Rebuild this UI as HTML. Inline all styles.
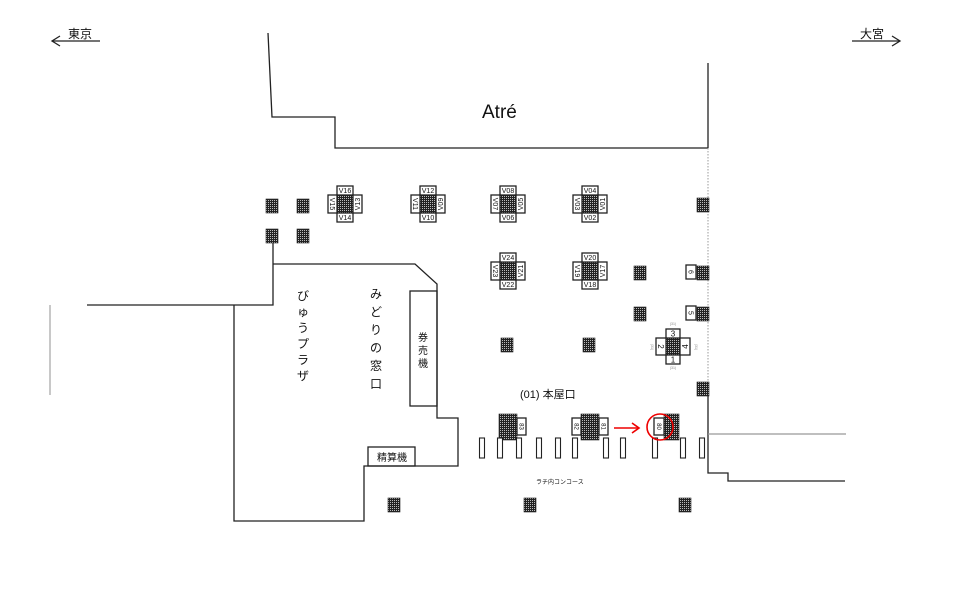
<!DOCTYPE html>
<html><head><meta charset="utf-8"><style>
html,body{margin:0;padding:0;background:#fff;}
svg{display:block;font-family:"Liberation Sans","Noto Sans CJK JP",sans-serif;}
</style></head><body>
<svg id="s" width="960" height="605" viewBox="0 0 960 605" xmlns="http://www.w3.org/2000/svg">
<defs>
<pattern id="h" width="2" height="2" patternUnits="userSpaceOnUse">
<rect width="2" height="2" fill="#222"/><rect width="1" height="1" fill="#bbb"/>
</pattern>
</defs>
<g fill="none" stroke="#222" stroke-width="1.3">
<line x1="52" y1="41" x2="100" y2="41"/><polyline points="60,36 52,41 60,46"/>
<line x1="852" y1="41" x2="900" y2="41"/><polyline points="892,36 900,41 892,46"/>
<polyline points="268,33 272,117 335,117 335,148 708,148"/>
<line x1="708" y1="63" x2="708" y2="148"/>
<line x1="708" y1="148" x2="708" y2="385" stroke="#999" stroke-dasharray="1.5,1.5" stroke-width="1"/>
<polyline points="708,385 708,473 728,473 728,481 845,481"/>
<line x1="708" y1="434" x2="846" y2="434" stroke="#999"/>
<polyline points="87,305 273,305 273,240"/>
<polyline points="234,305 234,521 364,521 364,466 458,466 458,418 437,418 437,284 415,264 273,264"/>
<rect x="410" y="291" width="27" height="115"/>
<rect x="368" y="447" width="47" height="19"/>
<line x1="50" y1="305" x2="50" y2="395" stroke="#aaa"/>
</g>
<g font-size="12" fill="#111">
<text x="68" y="38">東京</text>
<text x="860" y="38">大宮</text>
<text x="482" y="118" font-size="19">Atré</text>
<text x="377" y="461" font-size="10">精算機</text>
<text x="520" y="398" font-size="11">(01) 本屋口</text>
<text x="536" y="484" font-size="6">ラチ内コンコース</text>
</g>
<g font-size="12" fill="#111" text-anchor="middle">
<text x="303" y="300">び</text><text x="303" y="316">ゅ</text><text x="303" y="332">う</text><text x="303" y="348">プ</text><text x="303" y="364">ラ</text><text x="303" y="380">ザ</text>
</g>
<g font-size="12" fill="#111" text-anchor="middle">
<text x="376" y="298">み</text><text x="376" y="316">ど</text><text x="376" y="334">り</text><text x="376" y="352">の</text><text x="376" y="370">窓</text><text x="376" y="388">口</text>
</g>
<g font-size="10" fill="#111" text-anchor="middle">
<text x="423" y="341">券</text><text x="423" y="354">売</text><text x="423" y="367">機</text>
</g>
<g id="dyn"></g>
<g stroke="#e00" fill="none" stroke-width="1.6">
<line x1="614" y1="428" x2="638" y2="428"/><polyline points="632,423 639,428 632,433"/>
<circle cx="660" cy="427" r="13"/>
</g>
</svg>
<script>
var g=document.getElementById('dyn'),NS='http://www.w3.org/2000/svg';
function el(t,a,txt){var e=document.createElementNS(NS,t);for(var k in a)e.setAttribute(k,a[k]);if(txt!==undefined)e.textContent=txt;g.appendChild(e);return e;}
function hat(x,y,w,h){el('rect',{x:x,y:y,width:w,height:h,fill:'url(#h)',stroke:'#222','stroke-width':0.6});}
function box(x,y,w,h,t,rot,fs){el('rect',{x:x,y:y,width:w,height:h,fill:'#fff',stroke:'#222','stroke-width':1.3});
 var cx=x+w/2,cy=y+h/2;fs=fs||7;
 el('text',{x:cx,y:cy+fs*0.35,'font-size':fs,'text-anchor':'middle',fill:'#111',transform:rot?'rotate('+rot+' '+cx+' '+cy+')':''},t);}
[[266,199],[297,199],[266,229],[297,229],[697,198],[634,266],[634,307],[501,338],[583,338],[697,382],[697,266],[697,307],[388,498],[524,498],[679,498]].forEach(function(p){hat(p[0],p[1],12,14);});
function cross(cx,cy,t,b,l,r){hat(cx-8,cy-9,16,18);box(cx-8,cy-18,16,9,t);box(cx-8,cy+9,16,9,b);box(cx-17,cy-9,9,18,l,90);box(cx+8,cy-9,9,18,r,-90);}
cross(345,204,'V16','V14','V15','V13');
cross(428,204,'V12','V10','V11','V09');
cross(508,204,'V08','V06','V07','V05');
cross(590,204,'V04','V02','V03','V01');
cross(508,271,'V24','V22','V23','V21');
cross(590,271,'V20','V18','V19','V17');
hat(666,338,14,17);box(666,329,14,9,'3',0,8);box(666,355,14,9,'1',0,8);box(656,338,10,17,'2',90,8);box(680,338,10,17,'4',-90,8);
[[673,325,0],[673,369,0],[651,347,90],[695,347,90]].forEach(function(p){el('text',{x:p[0],y:p[1],'font-size':3.5,'text-anchor':'middle',fill:'#888',transform:p[2]?'rotate(90 '+p[0]+' '+p[1]+')':''},'(31)');});
box(686,265,10,14,'6',90,7);box(686,306,10,14,'5',90,7);
hat(499,414,18,26);box(517,418,9,17,'83',90,6);
hat(581,414,18,26);box(572,418,9,17,'82',90,6);box(599,418,9,17,'81',90,6);
hat(664,414,15,26);box(654,418,10,17,'80',90,6);
[482,500,519,539,558,575,606,623,655,683,702].forEach(function(x){el('rect',{x:x-2.5,y:438,width:5,height:20,fill:'#fff',stroke:'#222','stroke-width':1.1});});
</script>
</body></html>
